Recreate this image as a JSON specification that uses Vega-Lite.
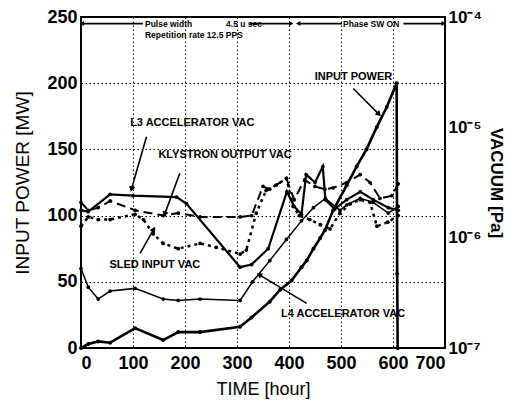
{
  "$schema": "https://vega.github.io/schema/vega-lite/v6.json",
  "width": 364,
  "height": 331,
  "autosize": "none",
  "padding": {"left": 81, "top": 17, "right": 65, "bottom": 62},
  "background": "white",
  "config": {
    "view": {"stroke": "black", "strokeWidth": 2},
    "font": "Liberation Sans",
    "axis": {
      "labelFont": "Liberation Sans", "titleFont": "Liberation Sans",
      "labelColor": "black", "titleColor": "black",
      "labelFontSize": 18, "labelFontWeight": "bold",
      "titleFontSize": 19, "titleFontWeight": "normal",
      "domain": false, "ticks": false,
      "gridColor": "black", "gridOpacity": 1, "gridDash": [1.5, 2.5], "gridWidth": 1
    }
  },
  "datasets": {
    "power": [
      {"t": 0, "p": 0}, {"t": 14, "p": 3}, {"t": 33, "p": 5}, {"t": 56, "p": 4}, {"t": 104, "p": 15},
      {"t": 158, "p": 6}, {"t": 187, "p": 12}, {"t": 229, "p": 12}, {"t": 306, "p": 16}, {"t": 328, "p": 23},
      {"t": 363, "p": 35}, {"t": 383, "p": 44}, {"t": 405, "p": 51}, {"t": 424, "p": 61}, {"t": 434, "p": 66},
      {"t": 447, "p": 75}, {"t": 460, "p": 83}, {"t": 469, "p": 89}, {"t": 485, "p": 104}, {"t": 511, "p": 123},
      {"t": 530, "p": 137}, {"t": 549, "p": 150}, {"t": 569, "p": 167}, {"t": 588, "p": 182}, {"t": 607, "p": 200},
      {"t": 608, "p": 56}, {"t": 609, "p": 0}
    ],
    "vacuum": [
      {"series": "L3", "t": 0, "pa": 1.77e-6}, {"series": "L3", "t": 14, "pa": 1.72e-6}, {"series": "L3", "t": 56, "pa": 2.47e-6},
      {"series": "L3", "t": 100, "pa": 2.40e-6}, {"series": "L3", "t": 184, "pa": 2.33e-6}, {"series": "L3", "t": 203, "pa": 2.03e-6},
      {"series": "L3", "t": 306, "pa": 5.40e-7}, {"series": "L3", "t": 328, "pa": 5.70e-7}, {"series": "L3", "t": 360, "pa": 7.94e-7},
      {"series": "L3", "t": 396, "pa": 2.61e-6}, {"series": "L3", "t": 410, "pa": 1.92e-6}, {"series": "L3", "t": 424, "pa": 1.63e-6},
      {"series": "L3", "t": 433, "pa": 3.73e-6}, {"series": "L3", "t": 450, "pa": 3.16e-6}, {"series": "L3", "t": 465, "pa": 4.41e-6},
      {"series": "L3", "t": 470, "pa": 2.21e-6}, {"series": "L3", "t": 488, "pa": 1.82e-6}, {"series": "L3", "t": 511, "pa": 2.21e-6},
      {"series": "L3", "t": 537, "pa": 2.61e-6}, {"series": "L3", "t": 562, "pa": 2.21e-6}, {"series": "L3", "t": 591, "pa": 1.87e-6},
      {"series": "L3", "t": 610, "pa": 1.77e-6},
      {"series": "L4", "t": 0, "pa": 5.25e-7}, {"series": "L4", "t": 14, "pa": 3.56e-7}, {"series": "L4", "t": 33, "pa": 2.78e-7},
      {"series": "L4", "t": 56, "pa": 3.28e-7}, {"series": "L4", "t": 104, "pa": 3.47e-7}, {"series": "L4", "t": 158, "pa": 2.78e-7},
      {"series": "L4", "t": 187, "pa": 2.70e-7}, {"series": "L4", "t": 229, "pa": 2.78e-7}, {"series": "L4", "t": 306, "pa": 2.70e-7},
      {"series": "L4", "t": 330, "pa": 3.98e-7}, {"series": "L4", "t": 363, "pa": 6.19e-7}, {"series": "L4", "t": 395, "pa": 9.64e-7},
      {"series": "L4", "t": 424, "pa": 1.42e-6}, {"series": "L4", "t": 447, "pa": 1.87e-6}, {"series": "L4", "t": 470, "pa": 2.27e-6},
      {"series": "L4", "t": 498, "pa": 1.77e-6}, {"series": "L4", "t": 511, "pa": 1.98e-6}, {"series": "L4", "t": 537, "pa": 2.27e-6},
      {"series": "L4", "t": 562, "pa": 2.09e-6}, {"series": "L4", "t": 591, "pa": 1.67e-6}, {"series": "L4", "t": 610, "pa": 1.92e-6},
      {"series": "KLY", "t": 0, "pa": 2.09e-6}, {"series": "KLY", "t": 14, "pa": 1.77e-6}, {"series": "KLY", "t": 33, "pa": 1.87e-6},
      {"series": "KLY", "t": 56, "pa": 2.15e-6}, {"series": "KLY", "t": 104, "pa": 1.77e-6}, {"series": "KLY", "t": 158, "pa": 1.585e-6},
      {"series": "KLY", "t": 187, "pa": 1.67e-6}, {"series": "KLY", "t": 229, "pa": 1.54e-6}, {"series": "KLY", "t": 306, "pa": 1.54e-6},
      {"series": "KLY", "t": 328, "pa": 1.585e-6}, {"series": "KLY", "t": 350, "pa": 2.91e-6}, {"series": "KLY", "t": 363, "pa": 2.75e-6},
      {"series": "KLY", "t": 395, "pa": 3.44e-6}, {"series": "KLY", "t": 410, "pa": 2.21e-6}, {"series": "KLY", "t": 430, "pa": 3.34e-6},
      {"series": "KLY", "t": 450, "pa": 2.91e-6}, {"series": "KLY", "t": 469, "pa": 2.75e-6}, {"series": "KLY", "t": 485, "pa": 2.83e-6},
      {"series": "KLY", "t": 511, "pa": 3.16e-6}, {"series": "KLY", "t": 537, "pa": 3.73e-6}, {"series": "KLY", "t": 556, "pa": 3.16e-6},
      {"series": "KLY", "t": 575, "pa": 2.27e-6}, {"series": "KLY", "t": 598, "pa": 2.40e-6}, {"series": "KLY", "t": 610, "pa": 3.08e-6},
      {"series": "SLED", "t": 0, "pa": 1.27e-6}, {"series": "SLED", "t": 14, "pa": 1.54e-6}, {"series": "SLED", "t": 33, "pa": 1.46e-6},
      {"series": "SLED", "t": 56, "pa": 1.46e-6}, {"series": "SLED", "t": 104, "pa": 1.63e-6}, {"series": "SLED", "t": 120, "pa": 1.46e-6},
      {"series": "SLED", "t": 139, "pa": 1.08e-6}, {"series": "SLED", "t": 158, "pa": 8.87e-7}, {"series": "SLED", "t": 187, "pa": 7.94e-7},
      {"series": "SLED", "t": 229, "pa": 8.87e-7}, {"series": "SLED", "t": 260, "pa": 8.17e-7}, {"series": "SLED", "t": 306, "pa": 7.11e-7},
      {"series": "SLED", "t": 318, "pa": 7.73e-7}, {"series": "SLED", "t": 337, "pa": 1.67e-6}, {"series": "SLED", "t": 356, "pa": 2.68e-6},
      {"series": "SLED", "t": 375, "pa": 2.99e-6}, {"series": "SLED", "t": 395, "pa": 3.44e-6}, {"series": "SLED", "t": 408, "pa": 1.92e-6},
      {"series": "SLED", "t": 420, "pa": 1.585e-6}, {"series": "SLED", "t": 440, "pa": 1.46e-6}, {"series": "SLED", "t": 460, "pa": 1.31e-6},
      {"series": "SLED", "t": 479, "pa": 1.20e-6}, {"series": "SLED", "t": 498, "pa": 1.67e-6}, {"series": "SLED", "t": 518, "pa": 2.03e-6},
      {"series": "SLED", "t": 537, "pa": 2.21e-6}, {"series": "SLED", "t": 556, "pa": 2.09e-6}, {"series": "SLED", "t": 569, "pa": 1.27e-6},
      {"series": "SLED", "t": 590, "pa": 1.38e-6}, {"series": "SLED", "t": 610, "pa": 1.585e-6}
    ],
    "labels": [
      {"t": 214, "p": 170, "text": "L3 ACCELERATOR VAC"},
      {"t": 277, "p": 146, "text": "KLYSTRON OUTPUT VAC"},
      {"t": 142, "p": 63, "text": "SLED INPUT VAC"},
      {"t": 524, "p": 205, "text": "INPUT POWER"},
      {"t": 504, "p": 26, "text": "L4 ACCELERATOR VAC"}
    ],
    "toptext": [
      {"t": 123, "p": 245, "text": "Pulse width"},
      {"t": 279, "p": 245, "text": "4.5 u sec"},
      {"t": 123, "p": 236.5, "text": "Repetition rate  12.5 PPS"},
      {"t": 504, "p": 245, "text": "Phase SW ON"}
    ],
    "arrows": [
      {"name": "L3", "t": 126, "p": 159.6, "t2": 97.5, "p2": 120.6},
      {"name": "KLY", "t": 190, "p": 132, "t2": 161.5, "p2": 101.7},
      {"name": "SLED", "t": 113.5, "p": 71.5, "t2": 139, "p2": 89.1},
      {"name": "IP", "t": 523.6, "p": 196, "t2": 571.7, "p2": 177},
      {"name": "L4", "t": 434, "p": 33.7, "t2": 344, "p2": 55},
      {"name": "topL1", "t": 119, "p": 245, "t2": 3, "p2": 245},
      {"name": "topR1", "t": 325, "p": 245, "t2": 403, "p2": 245},
      {"name": "topL2", "t": 502, "p": 245, "t2": 419, "p2": 245},
      {"name": "topR2", "t": 620, "p": 245, "t2": 696, "p2": 245}
    ]
  },
  "encoding": {
    "x": {
      "field": "t", "type": "quantitative",
      "scale": {"domain": [0, 700], "nice": false},
      "axis": {"values": [0, 100, 200, 300, 400, 500, 600, 700], "title": "TIME [hour]", "labelPadding": 6, "titlePadding": 8, "titleFontSize": 18}
    }
  },
  "layer": [
    {
      "encoding": {
        "y": {
          "field": "p", "type": "quantitative",
          "scale": {"domain": [0, 250], "nice": false},
          "axis": {"values": [0, 50, 100, 150, 200, 250], "title": "INPUT POWER [MW]", "labelPadding": 4, "titlePadding": 14}
        }
      },
      "layer": [
        {"data": {"name": "power"}, "mark": {"type": "line", "color": "black", "strokeWidth": 2.6}},
        {"data": {"name": "power"}, "mark": {"type": "point", "filled": true, "color": "black", "opacity": 1, "size": 16}},
        {"data": {"name": "arrows"}, "mark": {"type": "rule", "color": "black", "strokeWidth": 1.6},
          "encoding": {"x2": {"field": "t2"}, "y2": {"field": "p2"}}},
        {"data": {"name": "arrows"}, "transform": [{"filter": "datum.name === 'L3'"}],
          "mark": {"type": "point", "shape": "triangle", "filled": true, "color": "black", "opacity": 1, "size": 40, "angle": 196},
          "encoding": {"x": {"field": "t2", "type": "quantitative"}, "y": {"field": "p2", "type": "quantitative"}}},
        {"data": {"name": "arrows"}, "transform": [{"filter": "datum.name === 'KLY'"}],
          "mark": {"type": "point", "shape": "triangle", "filled": true, "color": "black", "opacity": 1, "size": 40, "angle": 201},
          "encoding": {"x": {"field": "t2", "type": "quantitative"}, "y": {"field": "p2", "type": "quantitative"}}},
        {"data": {"name": "arrows"}, "transform": [{"filter": "datum.name === 'SLED'"}],
          "mark": {"type": "point", "shape": "triangle", "filled": true, "color": "black", "opacity": 1, "size": 40, "angle": 30},
          "encoding": {"x": {"field": "t2", "type": "quantitative"}, "y": {"field": "p2", "type": "quantitative"}}},
        {"data": {"name": "arrows"}, "transform": [{"filter": "datum.name === 'IP'"}],
          "mark": {"type": "point", "shape": "triangle", "filled": true, "color": "black", "opacity": 1, "size": 40, "angle": 135},
          "encoding": {"x": {"field": "t2", "type": "quantitative"}, "y": {"field": "p2", "type": "quantitative"}}},
        {"data": {"name": "arrows"}, "transform": [{"filter": "datum.name === 'L4'"}],
          "mark": {"type": "point", "shape": "triangle", "filled": true, "color": "black", "opacity": 1, "size": 40, "angle": 301},
          "encoding": {"x": {"field": "t2", "type": "quantitative"}, "y": {"field": "p2", "type": "quantitative"}}},
        {"data": {"name": "arrows"}, "transform": [{"filter": "indexof(datum.name, 'topL') === 0"}],
          "mark": {"type": "point", "shape": "triangle", "filled": true, "color": "black", "opacity": 1, "size": 25, "angle": 270},
          "encoding": {"x": {"field": "t2", "type": "quantitative"}, "y": {"field": "p2", "type": "quantitative"}}},
        {"data": {"name": "arrows"}, "transform": [{"filter": "indexof(datum.name, 'topR') === 0"}],
          "mark": {"type": "point", "shape": "triangle", "filled": true, "color": "black", "opacity": 1, "size": 25, "angle": 90},
          "encoding": {"x": {"field": "t2", "type": "quantitative"}, "y": {"field": "p2", "type": "quantitative"}}},
        {"data": {"name": "labels"}, "mark": {"type": "text", "font": "Liberation Sans", "fontWeight": "bold", "fontSize": 11, "color": "black", "align": "center", "baseline": "middle"},
          "encoding": {"text": {"field": "text"}}},
        {"data": {"name": "toptext"}, "mark": {"type": "text", "font": "Liberation Sans", "fontWeight": "bold", "fontSize": 8.5, "color": "black", "align": "left", "baseline": "middle"},
          "encoding": {"text": {"field": "text"}}}
      ]
    },
    {
      "data": {"name": "vacuum"},
      "encoding": {
        "y": {
          "field": "pa", "type": "quantitative",
          "scale": {"type": "log", "domain": [1e-7, 1e-4], "nice": false},
          "axis": {
            "orient": "right", "values": [1e-7, 1e-6, 1e-5, 1e-4], "grid": false,
            "labelExpr": "datum.value < 5e-7 ? '10⁻⁷' : datum.value < 5e-6 ? '10⁻⁶' : datum.value < 5e-5 ? '10⁻⁵' : '10⁻⁴'",
            "labelFontSize": 17,
            "title": "VACUUM [Pa]", "titleFontWeight": "bold", "titleFontSize": 17, "labelPadding": 3, "titlePadding": 5
          }
        }
      },
      "layer": [
        {"transform": [{"filter": "datum.series === 'L3'"}], "mark": {"type": "line", "color": "black", "strokeWidth": 2.2}},
        {"transform": [{"filter": "datum.series === 'L4'"}], "mark": {"type": "line", "color": "black", "strokeWidth": 1.5}},
        {"transform": [{"filter": "datum.series === 'KLY'"}], "mark": {"type": "line", "color": "black", "strokeWidth": 2, "strokeDash": [9, 5]}},
        {"transform": [{"filter": "datum.series === 'SLED'"}], "mark": {"type": "line", "color": "black", "strokeWidth": 2.5, "strokeDash": [3, 4]}},
        {"mark": {"type": "point", "filled": true, "color": "black", "opacity": 1, "size": 14}}
      ]
    }
  ],
  "resolve": {"scale": {"y": "independent"}}
}
